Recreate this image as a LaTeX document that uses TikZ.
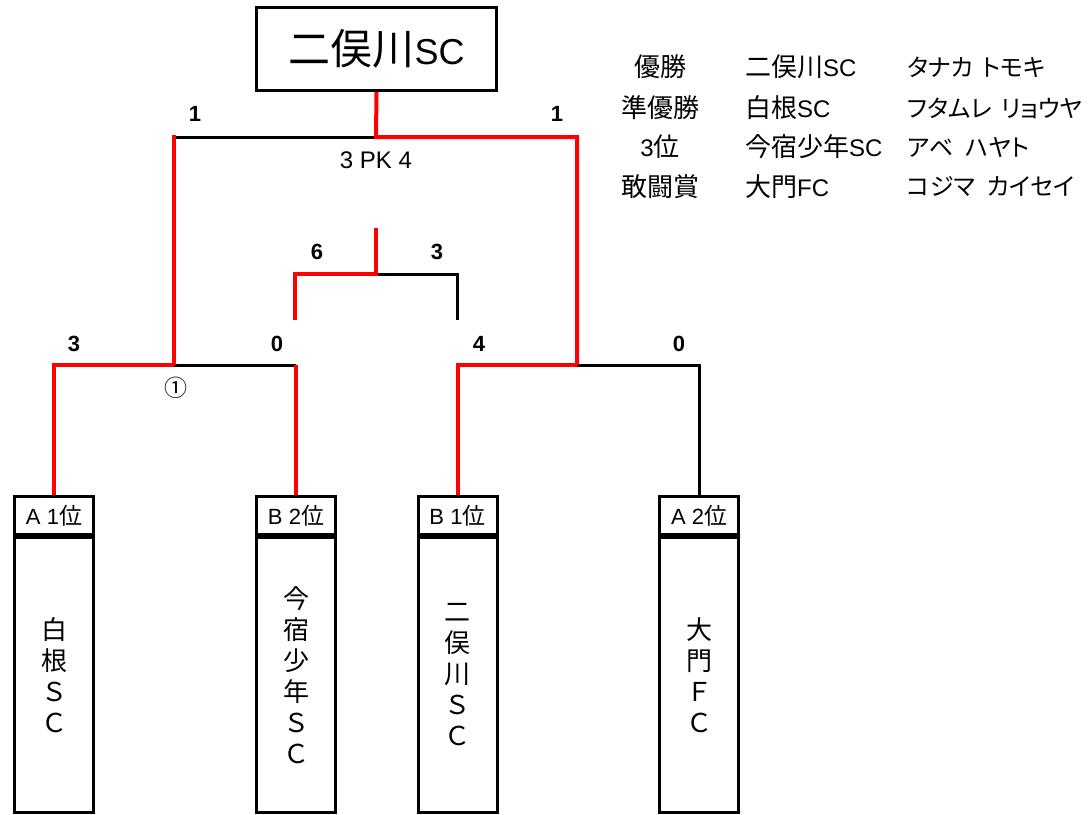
\documentclass[tikz,border=0pt]{standalone}
\usepackage{fontspec}
\setmainfont{Noto Sans CJK JP}
\newfontfamily\jpp[RawFeature=+palt]{Noto Sans CJK JP}
\newfontfamily\lat{Liberation Sans}
\newcommand\LS[2]{{\lat\fontsize{#1}{#1}\selectfont #2}}
\begin{document}
\begin{tikzpicture}[x=1pt,y=-1pt,
  win/.style={draw=red, line width=4pt},
  lose/.style={draw=black, line width=3pt},
  box/.style={draw=black, line width=3pt, inner sep=0pt, minimum width=79pt},
  hdr/.style={box, minimum height=38pt, font=\fontsize{23}{23}\selectfont},
  body/.style={box, minimum height=275pt},
  vtext/.style={font=\fontsize{26}{31}\selectfont, align=center, inner sep=0pt},
  score/.style={font=\lat\fontsize{22}{22}\selectfont\bfseries, inner sep=0pt},
  note/.style={font=\lat\fontsize{24}{24}\selectfont, inner sep=0pt},
  leg/.style={font=\fontsize{26}{26}\selectfont, inner sep=0pt},
  kana/.style={font=\jpp\fontsize{24}{24}\selectfont, inner sep=0pt},
]
\useasboundingbox (0,0) rectangle (1091,814);
\fill[white] (0,0) rectangle (1091,814);

% champion box
\node[draw=black, line width=3pt, minimum width=240pt, minimum height=83pt, inner sep=0pt,
      font=\fontsize{42}{42}\selectfont] (champ) at (376.5,49) {二俣川\LS{36}{SC}};

% team boxes
\node[hdr] (hA) at (54,515.5) {\LS{22}{A 1}位};
\node[body, anchor=north] (bA) at (hA.south) {};
\node[vtext] (tA) at (bA.center) {白\\根\\Ｓ\\Ｃ};

\node[hdr] (hB) at (296,515.5) {\LS{22}{B 2}位};
\node[body, anchor=north] (bB) at (hB.south) {};
\node[vtext] (tB) at (bB.center) {今\\宿\\少\\年\\Ｓ\\Ｃ};

\node[hdr] (hC) at (457.5,515.5) {\LS{22}{B 1}位};
\node[body, anchor=north] (bC) at (hC.south) {};
\node[vtext] (tC) at (bC.center) {二\\俣\\川\\Ｓ\\Ｃ};

\node[hdr] (hD) at (699,515.5) {\LS{22}{A 2}位};
\node[body, anchor=north] (bD) at (hD.south) {};
\node[vtext] (tD) at (bD.center) {大\\門\\Ｆ\\Ｃ};

% junctions
\coordinate (s1) at (174,365);
\coordinate (s2) at (577,365);
\coordinate (f) at (376,137);
\coordinate (t) at (376,274);
\coordinate (ttop) at (376,228);
\coordinate (tl) at (295,320);
\coordinate (tr) at (457,320);

% losing lines
\draw[lose] (s1) -- (s1 -| hB.north);
\draw[lose] (s2) -| (hD.north);
\draw[lose] (f) -- (f -| s1);
\draw[lose] (t) -| (tr);

% winning lines
\draw[win] (hA.north) |- (s1);
\draw[win] (hB.north) -- (hB.north |- s1);
\draw[win] ([yshift=2pt]s1 |- f) -- (s1);
\draw[win] (hC.north) |- (s2);
\draw[win] (s2) |- (f) -- (champ.south);
\draw[win] (ttop) -- (t) -| (tl);

% scores
\node[score] (sc1) at (195,114) {1};
\node[score] (sc2) at (557,114) {1};
\node[note] (pk) at (376,160) {3 PK 4};
\node[score] (sc3) at (317,252) {6};
\node[score] (sc4) at (437,252) {3};
\node[score] (sc5) at (74,344) {3};
\node[score] (sc6) at (277,344) {0};
\node[score] (sc7) at (479,344) {4};
\node[score] (sc8) at (679,344) {0};
\node[note] (m1) at (176,388) {\fontsize{23}{23}\selectfont\rmfamily ①};

% legend
\node[leg] (l11) at (660,67) {優勝};
\node[leg] (l21) at (660,108) {準優勝};
\node[leg] (l31) at (660,147) {\LS{24}{3}位};
\node[leg] (l41) at (660,187) {敢闘賞};
\node[leg, anchor=west] (l12) at (745,67) {二俣川\LS{24}{SC}};
\node[leg, anchor=west] (l22) at (745,108) {白根\LS{24}{SC}};
\node[leg, anchor=west] (l32) at (745,147) {今宿少年\LS{24}{SC}};
\node[leg, anchor=west] (l42) at (745,187) {大門\LS{24}{FC}};
\node[kana, anchor=west] (l13) at (907,67) {タナカ\hspace{9pt}トモキ};
\node[kana, anchor=west] (l23) at (907,108) {フタムレ\hspace{9pt}リョウヤ};
\node[kana, anchor=west] (l33) at (907,147) {アベ\hspace{12pt}ハヤト};
\node[kana, anchor=west] (l43) at (907,187) {コジマ\hspace{12pt}カイセイ};
\end{tikzpicture}
\end{document}
